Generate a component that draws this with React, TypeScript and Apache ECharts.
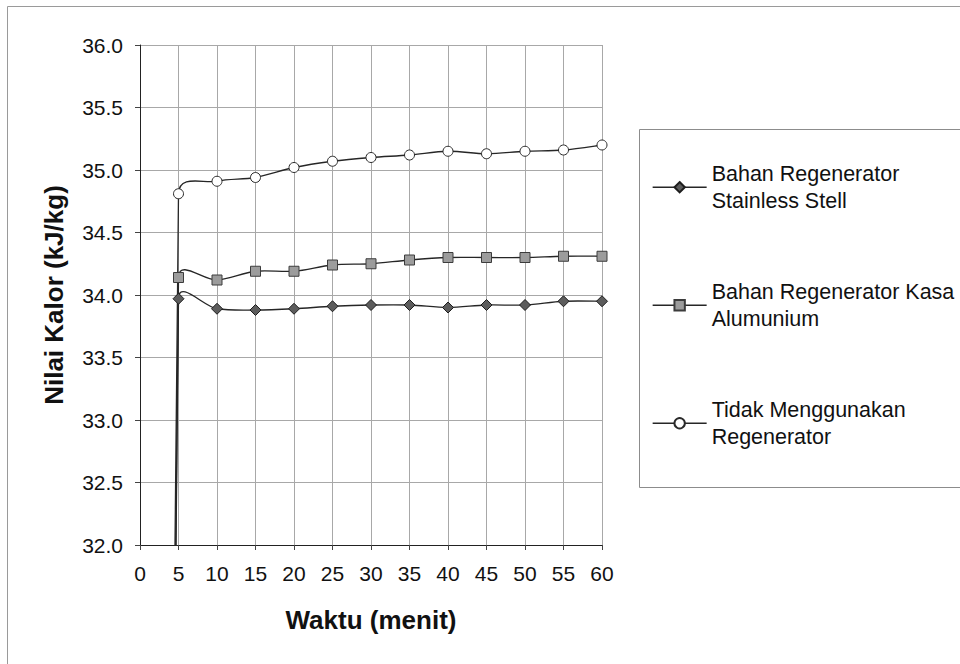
import React, { useEffect, useRef } from "react";
import * as echarts from "echarts";

// Waktu pengukuran (menit)
const minutes = [0, 5, 10, 15, 20, 25, 30, 35, 40, 45, 50, 55, 60];

// Nilai kalor (kJ/kg) tiap variasi regenerator
const stainlessSteel = [0, 33.97, 33.89, 33.88, 33.89, 33.91, 33.92, 33.92, 33.9, 33.92, 33.92, 33.95, 33.95];
const kasaAlumunium = [0, 34.14, 34.12, 34.19, 34.19, 34.24, 34.25, 34.28, 34.3, 34.3, 34.3, 34.31, 34.31];
const tanpaRegenerator = [0, 34.81, 34.91, 34.94, 35.02, 35.07, 35.1, 35.12, 35.15, 35.13, 35.15, 35.16, 35.2];

const seriesNames = [
  "Bahan Regenerator\nStainless Stell",
  "Bahan Regenerator Kasa\nAlumunium",
  "Tidak Menggunakan\nRegenerator",
];

const FONT = "'Liberation Sans', Arial, Helvetica, sans-serif";

// Spreadsheet-style smoothed curve through pixel points (cubic Bezier,
// tension 1/6, control arms shortened when a neighbour is far away).
function smoothPath(pts: number[][]): string {
  const n = pts.length;
  const dist = (a: number[], b: number[]) => Math.hypot(b[0] - a[0], b[1] - a[1]);
  let d = `M${pts[0][0]},${pts[0][1]}`;
  for (let i = 0; i < n - 1; i++) {
    const p0 = pts[Math.max(i - 1, 0)];
    const p1 = pts[i];
    const p2 = pts[i + 1];
    const p3 = pts[Math.min(i + 2, n - 1)];
    const d02 = dist(p0, p2);
    const d12 = dist(p1, p2);
    const d13 = dist(p1, p3);
    const f = 1 / 6;
    const f1 = d02 === 0 || d02 / 6 < d12 / 2 ? f : d12 / (2 * d02);
    const f2 = d13 === 0 || d13 / 6 < d12 / 2 ? f : d12 / (2 * d13);
    const c1 = [p1[0] + (p2[0] - p0[0]) * f1, p1[1] + (p2[1] - p0[1]) * f1];
    const c2 = [p2[0] - (p3[0] - p1[0]) * f2, p2[1] - (p3[1] - p1[1]) * f2];
    d += ` C${c1[0]},${c1[1]} ${c2[0]},${c2[1]} ${p2[0]},${p2[1]}`;
  }
  return d;
}

function curveSeries(values: number[]) {
  return {
    type: "custom",
    z: 1,
    silent: true,
    data: minutes.map((m, i) => [m, values[i]]),
    renderItem: (params: any, api: any) => {
      if (params.dataIndex !== 0) return null;
      const pts = minutes.map((m, i) => api.coord([m, values[i]]));
      const cs = params.coordSys;
      return {
        type: "path",
        shape: { pathData: smoothPath(pts) },
        style: { fill: "none", stroke: "#262626", lineWidth: 1.3 },
        clipPath: {
          type: "rect",
          shape: { x: cs.x, y: cs.y, width: cs.width, height: cs.height },
        },
      };
    },
  };
}

function markerSeries(name: string, values: number[], symbol: string, size: number, itemStyle: any) {
  return {
    type: "line",
    name,
    z: 3,
    data: minutes.map((m, i) => [m, values[i]]),
    symbol,
    symbolSize: size,
    showAllSymbol: true,
    clip: true,
    lineStyle: { width: 0, opacity: 0 },
    itemStyle,
    emphasis: { disabled: true },
  };
}

export default function App() {
  const ref = useRef<HTMLDivElement>(null);

  useEffect(() => {
    if (!ref.current) return;
    const chart = echarts.init(ref.current, undefined, { renderer: "svg" });
    chart.setOption({
      animation: false,
      backgroundColor: "#ffffff",
      textStyle: { fontFamily: FONT },
      grid: { left: 140, top: 45, width: 462, height: 500, containLabel: false },
      xAxis: {
        type: "value",
        min: 0,
        max: 60,
        interval: 5,
        name: "Waktu (menit)",
        nameLocation: "middle",
        nameGap: 62,
        nameTextStyle: { fontSize: 26, fontWeight: "bold", color: "#111", fontFamily: FONT },
        axisLine: { show: true, lineStyle: { color: "#222", width: 1 } },
        axisTick: { show: true, inside: false, length: 5, lineStyle: { color: "#444" } },
        axisLabel: { fontSize: 21, color: "#111", margin: 18, fontFamily: FONT },
        splitLine: { show: true, lineStyle: { color: "#a8a8a8", width: 1 } },
      },
      yAxis: {
        type: "value",
        min: 32,
        max: 36,
        interval: 0.5,
        name: "Nilai Kalor (kJ/kg)",
        nameLocation: "middle",
        nameGap: 73,
        nameTextStyle: { fontSize: 26, fontWeight: "bold", color: "#111", fontFamily: FONT },
        axisLine: { show: true, lineStyle: { color: "#222", width: 1 } },
        axisTick: { show: true, inside: false, length: 5, lineStyle: { color: "#444" } },
        axisLabel: {
          fontSize: 21,
          color: "#111",
          margin: 17,
          fontFamily: FONT,
          formatter: (v: number) => v.toFixed(1),
        },
        splitLine: { show: true, lineStyle: { color: "#a8a8a8", width: 1 } },
      },
      legend: {
        orient: "vertical",
        left: 652,
        top: 146,
        padding: 0,
        itemWidth: 54,
        itemHeight: 13,
        itemGap: 35.5,
        selectedMode: false,
        data: seriesNames,
        lineStyle: { color: "#262626", width: 1.3, opacity: 1 },
        textStyle: {
          fontSize: 21.5,
          color: "#111",
          fontFamily: FONT,
          lineHeight: 27.5,
          padding: [27.5, 0, 0, 0],
        },
      },
      graphic: [
        {
          type: "rect",
          silent: true,
          z: -10,
          shape: { x: 7.5, y: 6.5, width: 1000, height: 700 },
          style: { fill: "none", stroke: "#9a9a9a", lineWidth: 1 },
        },
        {
          type: "rect",
          silent: true,
          z: -10,
          shape: { x: 639.5, y: 129.5, width: 400, height: 358 },
          style: { fill: "none", stroke: "#8c8c8c", lineWidth: 1 },
        },
      ],
      series: [
        curveSeries(stainlessSteel),
        curveSeries(kasaAlumunium),
        curveSeries(tanpaRegenerator),
        markerSeries(seriesNames[0], stainlessSteel, "diamond", 11, {
          color: "#5c5c5c",
          borderColor: "#1e1e1e",
          borderWidth: 1,
        }),
        markerSeries(seriesNames[1], kasaAlumunium, "rect", 10, {
          color: "#9c9c9c",
          borderColor: "#3c3c3c",
          borderWidth: 1,
        }),
        markerSeries(seriesNames[2], tanpaRegenerator, "circle", 10, {
          color: "#ffffff",
          borderColor: "#2a2a2a",
          borderWidth: 1,
        }),
      ],
    });
    return () => chart.dispose();
  }, []);

  return (
    <div
      ref={ref}
      style={{ position: "fixed", left: 0, top: 0, width: 960, height: 664, background: "#fff" }}
    />
  );
}
